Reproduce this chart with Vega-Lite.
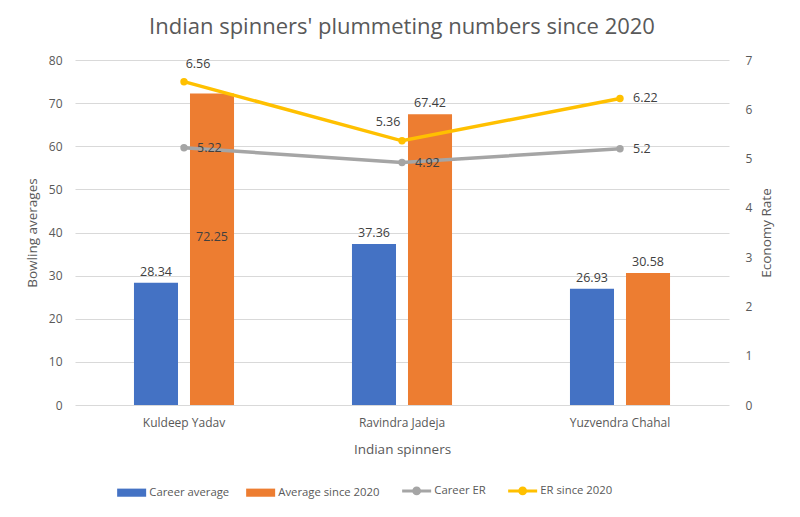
{
  "$schema": "https://vega.github.io/schema/vega-lite/v6.json",
  "width": 654,
  "height": 345,
  "autosize": {"type": "none"},
  "padding": {"left": 75, "top": 60, "right": 71, "bottom": 112},
  "background": "white",
  "title": {
    "text": "Indian spinners' plummeting numbers since 2020",
    "fontSize": 22,
    "fontWeight": "normal",
    "color": "#595959",
    "offset": 15
  },
  "data": {
    "values": [
      {"player": "Kuldeep Yadav", "series": "Career average", "kind": "bar", "value": 28.34},
      {"player": "Kuldeep Yadav", "series": "Average since 2020", "kind": "bar", "value": 72.25},
      {"player": "Ravindra Jadeja", "series": "Career average", "kind": "bar", "value": 37.36},
      {"player": "Ravindra Jadeja", "series": "Average since 2020", "kind": "bar", "value": 67.42},
      {"player": "Yuzvendra Chahal", "series": "Career average", "kind": "bar", "value": 26.93},
      {"player": "Yuzvendra Chahal", "series": "Average since 2020", "kind": "bar", "value": 30.58},
      {"player": "Kuldeep Yadav", "series": "Career ER", "kind": "line", "value": 5.22},
      {"player": "Ravindra Jadeja", "series": "Career ER", "kind": "line", "value": 4.92},
      {"player": "Yuzvendra Chahal", "series": "Career ER", "kind": "line", "value": 5.2},
      {"player": "Kuldeep Yadav", "series": "ER since 2020", "kind": "line", "value": 6.56},
      {"player": "Ravindra Jadeja", "series": "ER since 2020", "kind": "line", "value": 5.36},
      {"player": "Yuzvendra Chahal", "series": "ER since 2020", "kind": "line", "value": 6.22}
    ]
  },
  "config": {
    "font": "Open Sans",
    "view": {"stroke": null},
    "axis": {
      "labelColor": "#595959",
      "labelFontSize": 12,
      "titleColor": "#595959",
      "titleFontWeight": "normal",
      "titleFontSize": 13.5,
      "domain": false,
      "ticks": false
    },
    "text": {"fontSize": 12.5, "color": "#404040"}
  },
  "encoding": {
    "x": {
      "field": "player",
      "type": "nominal",
      "scale": {"paddingInner": 0.541, "paddingOuter": 0.2705},
      "title": "Indian spinners",
      "axis": {"labelAngle": 0, "labelPadding": 12, "titlePadding": 14, "grid": false}
    },
    "color": {
      "field": "series",
      "type": "nominal",
      "scale": {
        "domain": ["Career average", "Average since 2020", "Career ER", "ER since 2020"],
        "range": ["#4472C4", "#ED7D31", "#A5A5A5", "#FFC000"]
      },
      "legend": {
        "orient": "none",
        "legendX": 51,
        "legendY": 425,
        "direction": "horizontal",
        "title": null,
        "labelFontSize": 11.3,
        "labelColor": "#595959",
        "columnPadding": 16,
        "labelOffset": 12,
        "symbolSize": 841,
        "encode": {
          "symbols": {
            "update": {
              "shape": {"signal": "datum.value == 'Career ER' || datum.value == 'ER since 2020' ? 'M-1,0H1M0.2,0A0.2,0.2 0 1,1 -0.2,0A0.2,0.2 0 1,1 0.2,0' : 'M-1,-0.28H1V0.28H-1Z'"},
              "size": {"value": 841},
              "fill": {"scale": "color", "field": "value"},
              "stroke": {"scale": "color", "field": "value"},
              "strokeWidth": {"signal": "datum.value == 'Career ER' || datum.value == 'ER since 2020' ? 3 : 0"},
              "opacity": {"value": 1}
            }
          }
        }
      }
    }
  },
  "layer": [
    {
      "transform": [{"filter": "datum.kind == 'bar'"}],
      "encoding": {
        "xOffset": {
          "field": "series",
          "sort": ["Career average", "Average since 2020"],
          "scale": {"paddingInner": 0.214, "paddingOuter": 0}
        },
        "y": {
          "field": "value",
          "type": "quantitative",
          "scale": {"domain": [0, 80]},
          "title": "Bowling averages",
          "axis": {"values": [0, 10, 20, 30, 40, 50, 60, 70, 80], "gridColor": "#D9D9D9", "labelPadding": 13, "titlePadding": 9}
        }
      },
      "layer": [
        {"mark": {"type": "bar"}},
        {
          "transform": [{"filter": "!(datum.player == 'Kuldeep Yadav' && datum.series == 'Average since 2020')"}],
          "mark": {"type": "text", "dy": -11},
          "encoding": {"text": {"field": "value", "type": "quantitative"}, "color": {"value": "#404040"}}
        },
        {
          "transform": [
            {"filter": "datum.player == 'Kuldeep Yadav' && datum.series == 'Average since 2020'"},
            {"calculate": "datum.value", "as": "label"},
            {"calculate": "datum.value / 2", "as": "value"}
          ],
          "mark": {"type": "text", "dy": -12},
          "encoding": {"text": {"field": "label", "type": "quantitative"}, "color": {"value": "#404040"}}
        }
      ]
    },
    {
      "transform": [{"filter": "datum.kind == 'line'"}],
      "encoding": {
        "y": {
          "field": "value",
          "type": "quantitative",
          "scale": {"domain": [0, 7]},
          "title": "Economy Rate",
          "axis": {"orient": "right", "values": [0, 1, 2, 3, 4, 5, 6, 7], "grid": false, "labelPadding": 16, "titlePadding": 8, "titleAngle": -90, "titleBaseline": "top"}
        }
      },
      "layer": [
        {
          "mark": {"type": "line", "strokeWidth": 3.5, "point": {"size": 55, "filled": true, "opacity": 1}}
        },
        {
          "transform": [{"filter": "datum.series == 'Career ER' || datum.player == 'Yuzvendra Chahal'"}],
          "mark": {"type": "text", "align": "left", "dx": 13},
          "encoding": {"text": {"field": "value", "type": "quantitative"}, "color": {"value": "#404040"}}
        },
        {
          "transform": [{"filter": "datum.series == 'ER since 2020' && datum.player == 'Kuldeep Yadav'"}],
          "mark": {"type": "text", "dx": 14, "dy": -18},
          "encoding": {"text": {"field": "value", "type": "quantitative"}, "color": {"value": "#404040"}}
        },
        {
          "transform": [{"filter": "datum.series == 'ER since 2020' && datum.player == 'Ravindra Jadeja'"}],
          "mark": {"type": "text", "dx": -14, "dy": -19},
          "encoding": {"text": {"field": "value", "type": "quantitative"}, "color": {"value": "#404040"}}
        }
      ]
    }
  ],
  "resolve": {"scale": {"y": "independent"}}
}
